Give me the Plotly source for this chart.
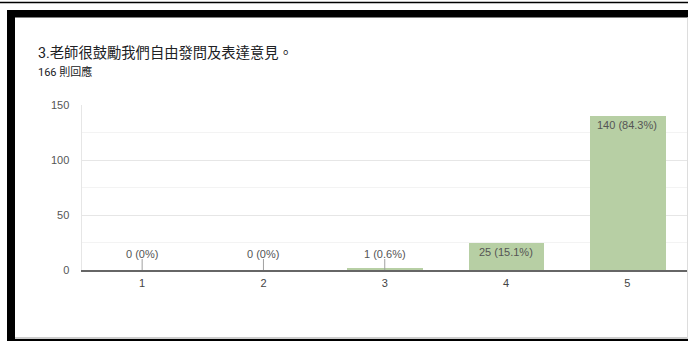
import plotly.graph_objects as go

# ---- data ----
categories = ["1", "2", "3", "4", "5"]
counts = [0, 0, 1, 25, 140]
pct_labels = ["0%", "0%", "0.6%", "15.1%", "84.3%"]
title_text = "3.老師很鼓勵我們自由發問及表達意見。"
subtitle_text = "166 則回應"
y_ticks = [0, 50, 100, 150]

W, H = 688, 341

def px_x(p):
    return p / W

def px_y(p):
    return 1 - p / H

bar_color = "#b7cfa4"
label_color = "#555555"
small_threshold = 10
stub_height = 10

x_pos = list(range(1, len(categories) + 1))

fig = go.Figure()
fig.add_trace(go.Bar(
    x=x_pos, y=counts, width=0.625,
    marker=dict(color=bar_color, line=dict(width=0)),
    hoverinfo="skip",
))
# small stubs for tiny / zero values
fig.add_trace(go.Scatter(
    x=x_pos, y=[0] * len(counts), mode="markers",
    marker=dict(size=0.1, opacity=0),
    error_y=dict(type="data", symmetric=False,
                 array=[stub_height if c < small_threshold else 0 for c in counts],
                 arrayminus=[0] * len(counts),
                 width=0, thickness=1, color="#a0a0a0"),
    hoverinfo="skip",
))

annotations = []
for xi, c, p in zip(x_pos, counts, pct_labels):
    txt = f"{c} ({p})"
    if c < small_threshold:
        annotations.append(dict(x=xi, y=0, xref="x", yref="y", text=txt,
                                showarrow=False, yanchor="bottom", yshift=8,
                                font=dict(size=11, color=label_color,
                                          family="Liberation Sans, Arial")))
    else:
        annotations.append(dict(x=xi, y=c, xref="x", yref="y", text=txt,
                                showarrow=False, yanchor="top", yshift=-1.5,
                                font=dict(size=11, color=label_color,
                                          family="Liberation Sans, Arial")))

annotations.append(dict(x=px_x(36), y=px_y(53), xref="paper", yref="paper",
                        text=title_text, showarrow=False, xanchor="left",
                        yanchor="middle",
                        font=dict(size=14.3, color="#202124",
                                  family="Roboto, 'Noto Sans CJK TC'")))
annotations.append(dict(x=px_x(36), y=px_y(72), xref="paper", yref="paper",
                        text=subtitle_text, showarrow=False, xanchor="left",
                        yanchor="middle",
                        font=dict(size=11, color="#202124",
                                  family="Roboto, 'Noto Sans CJK TC'")))

shapes = [
    dict(type="line", xref="paper", yref="paper", x0=0, x1=1,
         y0=px_y(2.5), y1=px_y(2.5), line=dict(color="black", width=1.5)),
    dict(type="rect", xref="paper", yref="paper", x0=px_x(7), x1=1,
         y0=px_y(17.5), y1=px_y(10), fillcolor="black", line=dict(width=0)),
    dict(type="rect", xref="paper", yref="paper", x0=px_x(7), x1=px_x(15),
         y0=px_y(341), y1=px_y(10), fillcolor="black", line=dict(width=0)),
    dict(type="line", xref="paper", yref="paper", x0=px_x(15), x1=1,
         y0=px_y(338), y1=px_y(338), line=dict(color="#9a9a9a", width=1)),
    dict(type="rect", xref="paper", yref="paper", x0=px_x(7), x1=1,
         y0=0, y1=px_y(339), fillcolor="black", line=dict(width=0)),
    dict(type="line", xref="paper", yref="paper", x0=px_x(687.5), x1=px_x(687.5),
         y0=px_y(338), y1=px_y(17.5), line=dict(color="#dddddd", width=1)),
]

fig.update_layout(
    template="none",
    width=W, height=H,
    margin=dict(l=0, r=0, t=0, b=0),
    paper_bgcolor="white", plot_bgcolor="white",
    showlegend=False,
    annotations=annotations,
    shapes=shapes,
    bargap=0,
    xaxis=dict(
        domain=[px_x(81.5), 1],
        range=[0.5, 5.5],
        tickmode="array", tickvals=x_pos, ticktext=categories,
        showgrid=False, zeroline=False,
        showline=True, linecolor="#666666", linewidth=1.5,
        ticks="", ticklabelstandoff=2,
        tickfont=dict(size=11, color="#444444", family="Liberation Sans, Arial"),
        fixedrange=True, automargin=False,
    ),
    yaxis=dict(
        domain=[px_y(270), px_y(105)],
        range=[0, 150],
        tickmode="array", tickvals=y_ticks,
        showgrid=True, gridcolor="#e6e6e6", gridwidth=1,
        minor=dict(dtick=25, tick0=0, showgrid=True, gridcolor="#f3f3f3", gridwidth=1, ticks=""),
        zeroline=False,
        showline=True, linecolor="#e6e6e6", linewidth=1,
        ticks="", ticklabelstandoff=9,
        tickfont=dict(size=11, color="#555555", family="Liberation Sans, Arial"),
        fixedrange=True, automargin=False,
    ),
)

fig.write_html("out.html", config={"displayModeBar": False},
               post_script="document.body.style.margin='0';document.body.style.overflow='hidden';")
